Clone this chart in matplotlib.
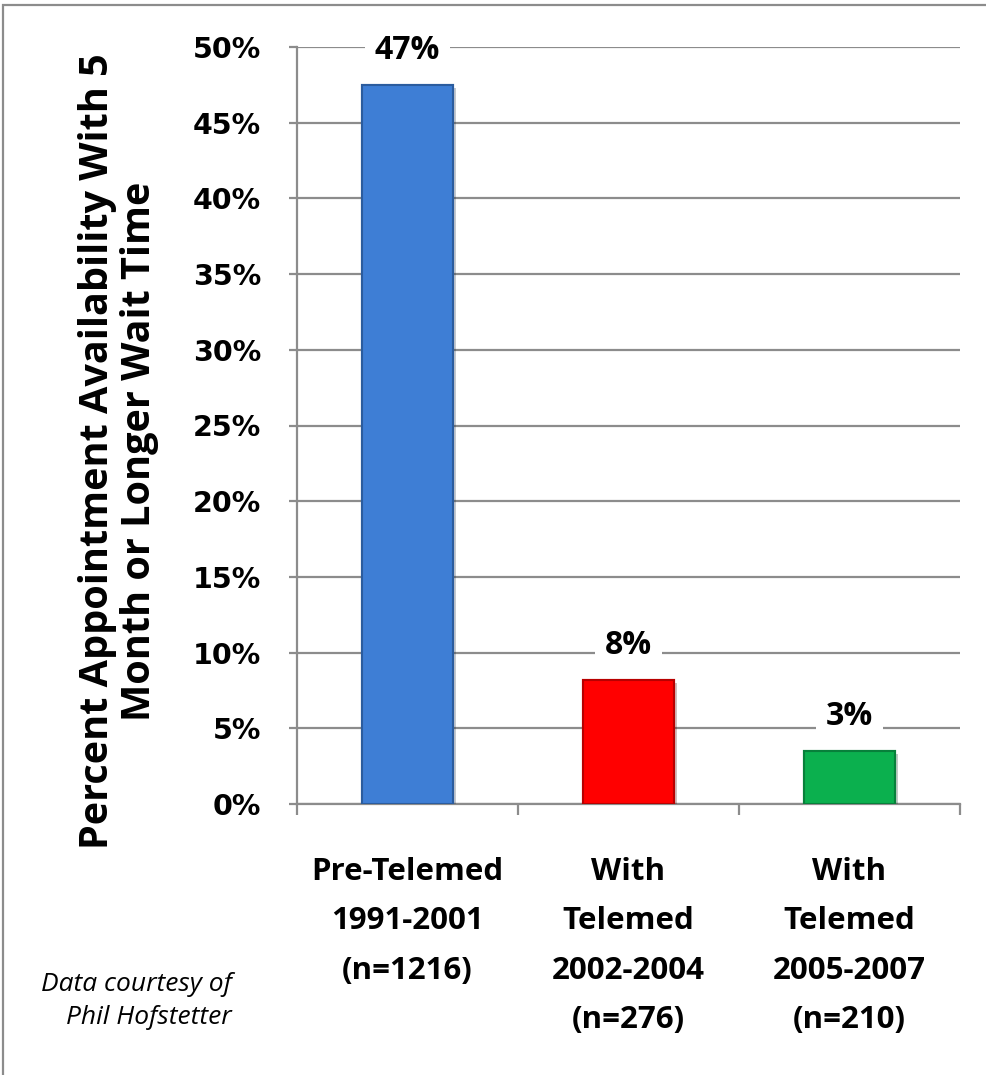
import matplotlib
matplotlib.use("Agg")
import matplotlib.pyplot as plt
import matplotlib.patches as patches
import matplotlib.patheffects as pe
from matplotlib.ticker import PercentFormatter

# chart data
categories = ["Pre-Telemed\n1991-2001\n(n=1216)",
              "With\nTelemed\n2002-2004\n(n=276)",
              "With\nTelemed\n2005-2007\n(n=210)"]
values = [0.475, 0.082, 0.035]
value_labels = ["47%", "8%", "3%"]
bar_colors = ["#3E7ED5", "#FF0000", "#0BB04E"]
edge_colors = ["#2B5C9E", "#B80000", "#07803A"]
y_ticks = [0, 0.05, 0.10, 0.15, 0.20, 0.25, 0.30, 0.35, 0.40, 0.45, 0.50]

W, H = 987, 1075
fig = plt.figure(figsize=(W / 100, H / 100), dpi=100)
ax = fig.add_axes([297 / W, 1 - 804 / H, (960 - 297) / W, (804 - 47) / H])

grid_col = "#8C8C8C"
main_font = "Open Sans"
x = list(range(len(categories)))
bars = ax.bar(x, values, width=0.41, color=bar_colors, edgecolor=edge_colors,
              linewidth=1.5, zorder=3)
for b in bars:
    b.set_path_effects([pe.withSimplePatchShadow(offset=(2, -2), alpha=0.25),
                        pe.Normal()])

# value labels above bars (white box breaks the gridline)
for xi, v, lab in zip(x, values, value_labels):
    ax.annotate(lab, (xi, v), xytext=(0, 25), textcoords="offset points",
                ha="center", va="center", fontsize=23, fontweight="bold",
                family=main_font, zorder=4,
                bbox=dict(boxstyle="square,pad=0.3", fc="white", ec="none"))

ax.set_xlim(-0.5, 2.5)
ax.set_ylim(0, 0.5)
ax.set_yticks(y_ticks)
ax.yaxis.set_major_formatter(PercentFormatter(1.0, decimals=0))
ax.yaxis.grid(True, color=grid_col, linewidth=1.6, zorder=0)
ax.set_axisbelow(True)

ax.set_xticks(x)
ax.set_xticklabels(categories, fontsize=22.5, fontweight="bold",
                   family=main_font, linespacing=1.85)
ax.set_xticks([-0.5, 0.5, 1.5, 2.5], minor=True)
ax.tick_params(axis="x", which="major", length=0, pad=38)
ax.tick_params(axis="x", which="minor", length=8, width=1.6, color=grid_col)
ax.tick_params(axis="y", length=6, width=1.6, color=grid_col, pad=20,
               labelsize=20.5)
for t in ax.get_yticklabels():
    t.set_fontweight("bold")
    t.set_family("DejaVu Sans")

for s in ["top", "right"]:
    ax.spines[s].set_visible(False)
for s in ["left", "bottom"]:
    ax.spines[s].set_color(grid_col)
    ax.spines[s].set_linewidth(1.6)

fig.text(119 / W, 1 - 451 / H,
         "Percent Appointment Availability With 5\nMonth or Longer Wait Time",
         rotation=90, ha="center", va="center", multialignment="center",
         fontsize=28.5, fontweight="bold", family=main_font, linespacing=1.1)

fig.text(232 / W, 1 - 1001 / H, "Data courtesy of\nPhil Hofstetter",
         ha="right", va="center", multialignment="right", fontsize=19,
         style="italic", family=main_font, linespacing=1.4)

# outer frame
fig.patches.append(patches.Rectangle((3 / W, -0.01), 1.0, 1 - 5 / H + 0.01,
                                     transform=fig.transFigure, fill=False,
                                     edgecolor=grid_col, linewidth=1.6))

fig.savefig("out.png", dpi=100)
